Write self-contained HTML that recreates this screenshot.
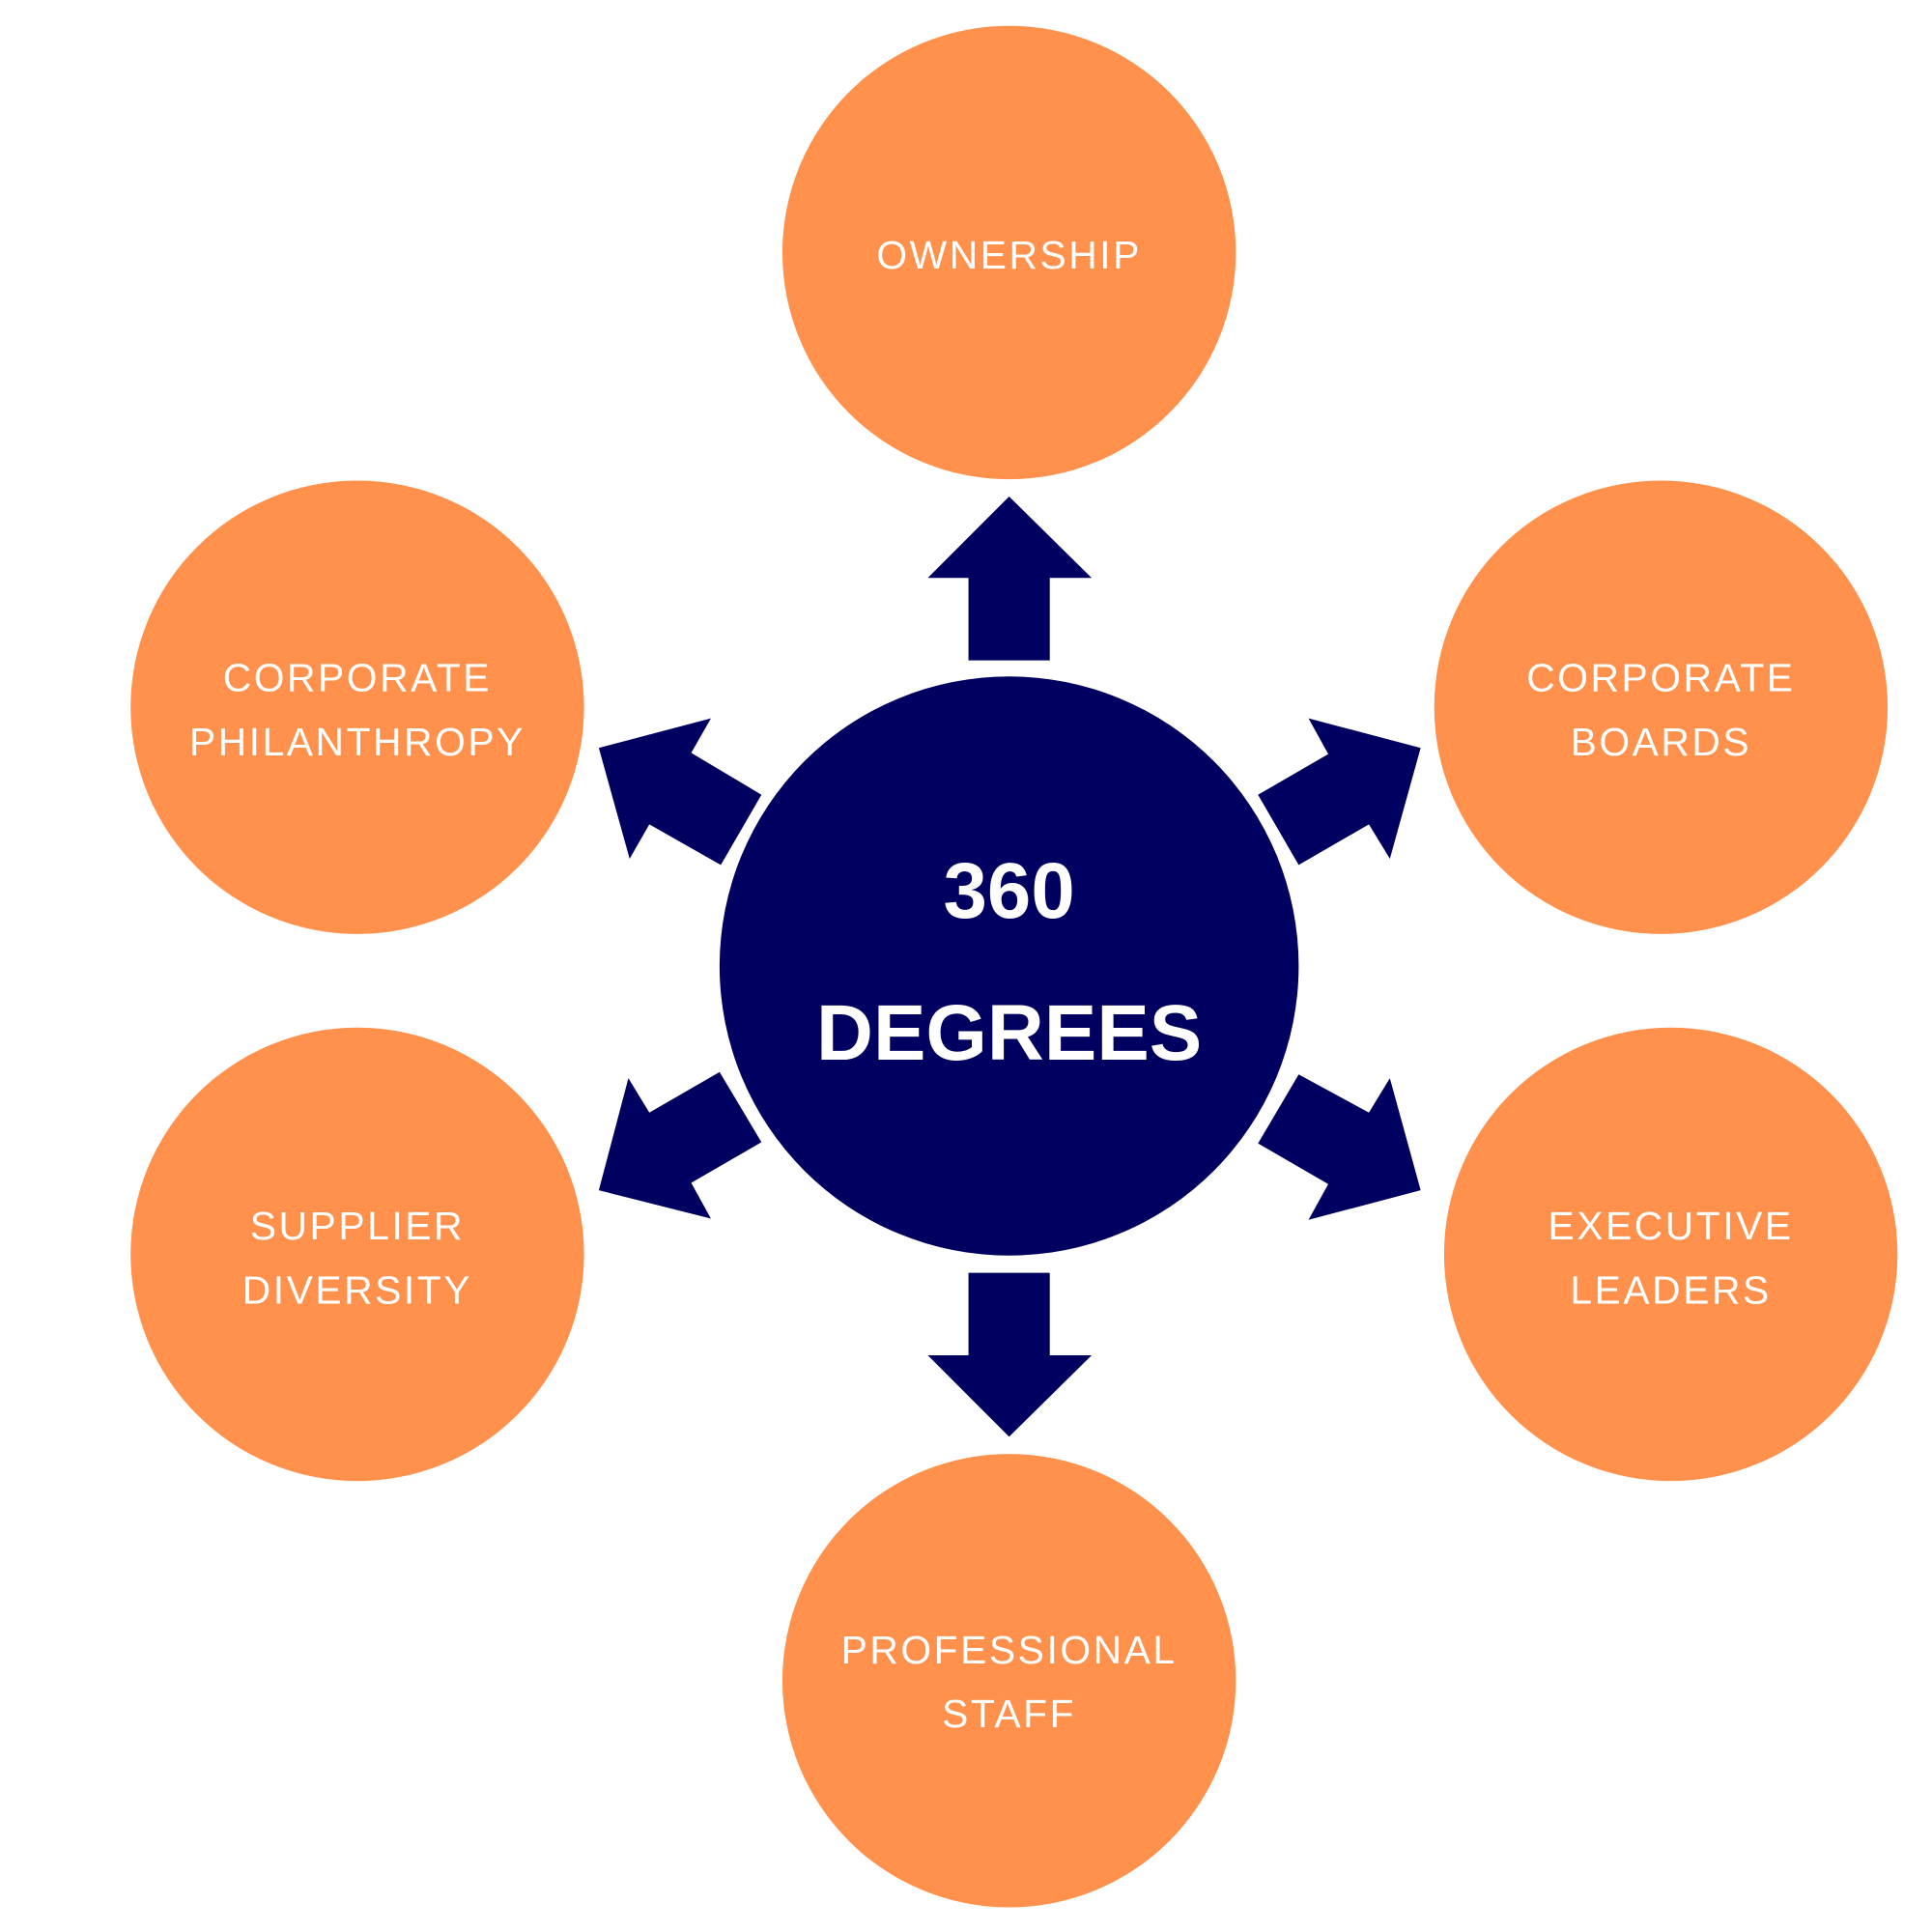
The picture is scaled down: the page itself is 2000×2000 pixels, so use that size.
<!DOCTYPE html>
<html><head><meta charset="utf-8"><style>
html,body{margin:0;padding:0;background:#fff;}
svg{display:block;}
.l{font-family:"Liberation Sans",sans-serif;font-size:32px;fill:#fff;letter-spacing:2px;text-anchor:middle;}
.c{font-family:"Liberation Sans",sans-serif;font-size:64px;font-weight:bold;fill:#fff;text-anchor:middle;}
</style></head><body>
<svg width="2000" height="2000" viewBox="0 0 1568 1568" xmlns="http://www.w3.org/2000/svg">
<rect width="1568" height="1568" fill="#fff"/>
<g fill="#FF914D">
<circle cx="819" cy="205" r="184"/>
<circle cx="290" cy="574" r="184"/>
<circle cx="1348" cy="574" r="184"/>
<circle cx="290" cy="1018" r="184"/>
<circle cx="1356" cy="1018" r="184"/>
<circle cx="819" cy="1364" r="184"/>
</g>
<circle cx="819" cy="784" r="235" fill="#000060"/>
<g fill="#000060">
<polygon points="786,536 786,469 753,469 819,403 886,469 852,469 852,536"/>
<polygon points="786,1033 852,1033 852,1100 886,1100 819,1166 753,1100 786,1100"/>
<polygon points="618,645 585,702 527,669 511,697 486,607 577,583 561,611"/>
<polygon points="1021,645 1078,612 1062,583 1153,607 1128,697 1111,669 1054,702"/>
<polygon points="584,870 618,927 561,960 577,989 486,966 510,875 527,903"/>
<polygon points="1054,872 1111,903 1128,875 1153,966 1062,990 1078,961 1021,928"/>
</g>
<text class="c" x="819" y="745">360</text>
<text class="c" x="819" y="860">DEGREES</text>
<text class="l" x="819" y="218">OWNERSHIP</text>
<text class="l" x="290" y="561">CORPORATE</text>
<text class="l" x="290" y="613">PHILANTHROPY</text>
<text class="l" x="1348" y="561">CORPORATE</text>
<text class="l" x="1348" y="613">BOARDS</text>
<text class="l" x="290" y="1006">SUPPLIER</text>
<text class="l" x="290" y="1058">DIVERSITY</text>
<text class="l" x="1356" y="1006">EXECUTIVE</text>
<text class="l" x="1356" y="1058">LEADERS</text>
<text class="l" x="819" y="1350">PROFESSIONAL</text>
<text class="l" x="819" y="1402">STAFF</text>
</svg>
</body></html>
